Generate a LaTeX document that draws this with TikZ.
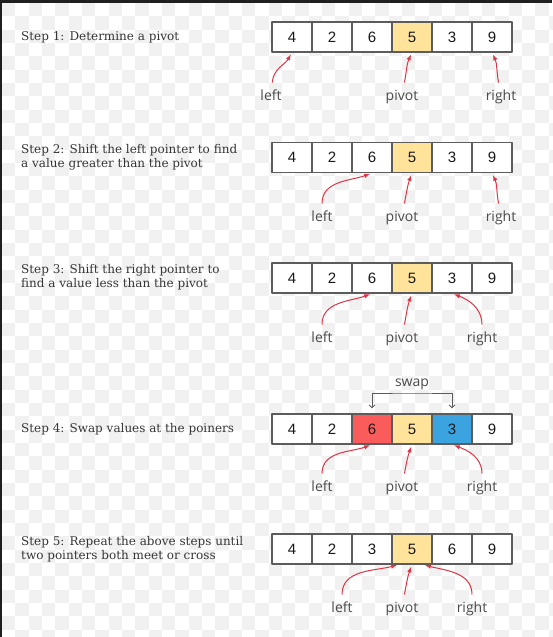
\documentclass[tikz,border=0pt]{standalone}
\usepackage{fontspec}
\setmainfont{DejaVu Serif}
\newfontfamily\numfont{Liberation Sans}
\newfontfamily\handfont{Open Sans}
\usepackage{xcolor}
\usetikzlibrary{arrows.meta}
\definecolor{pivotyellow}{HTML}{FFE39B}
\definecolor{swapred}{HTML}{FA5C5C}
\definecolor{swapblue}{HTML}{3BA3DF}
\definecolor{ptrred}{HTML}{DC3545}
\definecolor{cellgrey}{HTML}{5C5C5C}
\definecolor{textgrey}{HTML}{353535}
\definecolor{handgrey}{HTML}{4A4A4A}
\definecolor{checkgrey}{HTML}{F1F1F1}
\def\cellx{252}

\begin{document}
\begin{tikzpicture}[x=1pt, y=-1pt, line join=round]
    \tikzstyle{cell}=[draw=cellgrey, line width=1.1pt, fill=white, minimum width=40pt, minimum height=30pt, inner sep=0pt, text=black!90, font=\numfont\fontsize{15}{15}\selectfont]
    \tikzstyle{pivot cell}=[cell, fill=pivotyellow]
    \tikzstyle{left cell}=[cell, fill=swapred]
    \tikzstyle{right cell}=[cell, fill=swapblue]
    \tikzstyle{annot}=[anchor=west, align=left, inner sep=0pt, text=textgrey, font=\fontsize{12}{14}\selectfont]
    \tikzstyle{hand}=[anchor=base, inner sep=1pt, outer ysep=6pt, text height=10.5pt, text depth=3.5pt, text=handgrey, font=\handfont\fontsize{14}{14}\selectfont]
    \tikzstyle{pointer}=[draw=ptrred, line width=1pt, -{Latex[length=6pt,width=4.5pt]}, shorten >=2pt]
    \tikzstyle{swap arrow}=[draw=cellgrey, line width=0.9pt, {Straight Barb[length=3pt,width=6pt]}-{Straight Barb[length=3pt,width=6pt]}, shorten <=5pt, shorten >=5pt]

    % background
    \useasboundingbox (0,0) rectangle (552,637);
    \fill[white] (0,0) rectangle (552,637);
    \foreach \i in {0,...,41}
        \foreach \j in {0,2,...,46}
            \fill[checkgrey] ({2+13.33*\i},{3+13.33*\j+13.33*mod(\i,2)}) rectangle ++(13.33,13.33);
    \fill[black!88] (0,0) rectangle (552,3);
    \fill[black!88] (0,0) rectangle (2,637);

    % Step 1
    \node[annot] (T-1) at (21,37) {Step 1: Determine a pivot};
    \foreach \val/\kind [count=\i] in {4/cell,2/cell,6/cell,5/pivot cell,3/cell,9/cell}
        \node[\kind] (A-\i) at (\cellx+40*\i,37) {\val};
    \node[hand] (A-left) at (271,100) {left};
    \node[hand] (A-pivot) at (402,100) {pivot};
    \node[hand] (A-right) at (501,100) {right};
    \draw[pointer] (A-left) to[out=85,in=-120] (A-1.south);
    \draw[pointer] (A-pivot) to[out=80,in=-115] (A-4.south);
    \draw[pointer] (A-right) to[out=100,in=-65] (A-6.south);

    % Step 2
    \node[annot] (T-2) at (21,157) {Step 2: Shift the left pointer to find\\a value greater than the pivot};
    \foreach \val/\kind [count=\i] in {4/cell,2/cell,6/cell,5/pivot cell,3/cell,9/cell}
        \node[\kind] (B-\i) at (\cellx+40*\i,157.5) {\val};
    \node[hand] (B-left) at (322,221) {left};
    \node[hand] (B-pivot) at (402,221) {pivot};
    \node[hand] (B-right) at (501,221) {right};
    \draw[pointer] (B-left) to[out=90,in=-160] (B-3.south);
    \draw[pointer] (B-pivot) to[out=80,in=-110] (B-4.south);
    \draw[pointer] (B-right) to[out=100,in=-65] (B-6.south);

    % Step 3
    \node[annot] (T-3) at (21,277) {Step 3: Shift the right pointer to\\find a value less than the pivot};
    \foreach \val/\kind [count=\i] in {4/cell,2/cell,6/cell,5/pivot cell,3/cell,9/cell}
        \node[\kind] (C-\i) at (\cellx+40*\i,278) {\val};
    \node[hand] (C-left) at (322,342) {left};
    \node[hand] (C-pivot) at (402,342) {pivot};
    \node[hand] (C-right) at (482,342) {right};
    \draw[pointer] (C-left) to[out=90,in=-160] (C-3.south);
    \draw[pointer] (C-pivot) to[out=80,in=-110] (C-4.south);
    \draw[pointer] (C-right) to[out=90,in=-20] (C-5.south);

    % Step 4
    \node[annot] (T-4) at (21,429) {Step 4: Swap values at the poiners};
    \foreach \val/\kind [count=\i] in {4/cell,2/cell,6/left cell,5/pivot cell,3/right cell,9/cell}
        \node[\kind] (D-\i) at (\cellx+40*\i,429) {\val};
    \node[hand] (D-left) at (322,491) {left};
    \node[hand] (D-pivot) at (402,491) {pivot};
    \node[hand] (D-right) at (482,491) {right};
    \draw[pointer] (D-left) to[out=90,in=-160] (D-3.south);
    \draw[pointer] (D-pivot) to[out=80,in=-110] (D-4.south);
    \draw[pointer] (D-right) to[out=90,in=-20] (D-5.south);
    \coordinate (D-swap) at (412,393);
    \node[hand, outer ysep=0pt] (D-swaptext) at (412,386) {swap};
    \draw[swap arrow] (D-3.north) |- (D-swap) -| (D-5.north);

    % Step 5
    \node[annot] (T-5) at (21,549) {Step 5: Repeat the above steps until\\two pointers both meet or cross};
    \foreach \val/\kind [count=\i] in {4/cell,2/cell,3/cell,5/pivot cell,6/cell,9/cell}
        \node[\kind] (E-\i) at (\cellx+40*\i,549) {\val};
    \node[hand] (E-left) at (342,612) {left};
    \node[hand] (E-pivot) at (402,612) {pivot};
    \node[hand] (E-right) at (472,612) {right};
    \draw[pointer] (E-left) to[out=90,in=-165] ([xshift=-13pt]E-4.south);
    \draw[pointer] (E-pivot) to[out=80,in=-110] (E-4.south);
    \draw[pointer] (E-right) to[out=90,in=-15] ([xshift=11pt]E-4.south);
\end{tikzpicture}
\end{document}
